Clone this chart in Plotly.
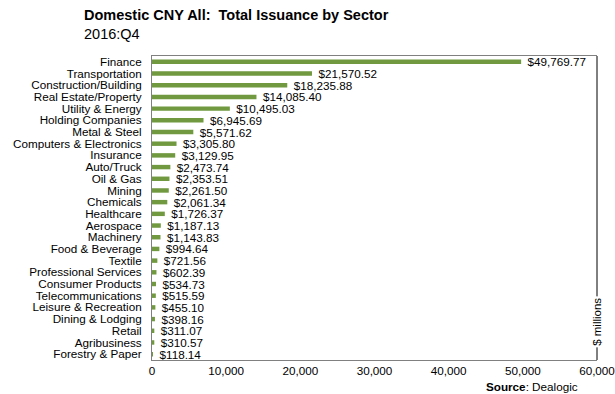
import plotly.graph_objects as go

sectors = ["Finance", "Transportation", "Construction/Building", "Real Estate/Property",
           "Utility & Energy", "Holding Companies", "Metal & Steel", "Computers & Electronics",
           "Insurance", "Auto/Truck", "Oil & Gas", "Mining", "Chemicals", "Healthcare",
           "Aerospace", "Machinery", "Food & Beverage", "Textile", "Professional Services",
           "Consumer Products", "Telecommunications", "Leisure & Recreation",
           "Dining & Lodging", "Retail", "Agribusiness", "Forestry & Paper"]
issuance = [49769.77, 21570.52, 18235.88, 14085.40, 10495.03, 6945.69, 5571.62, 3305.80,
            3129.95, 2473.74, 2353.51, 2261.50, 2061.34, 1726.37, 1187.13, 1143.83, 994.64,
            721.56, 602.39, 534.73, 515.59, 455.10, 398.16, 311.07, 310.57, 118.14]
x_ticks = [0, 10000, 20000, 30000, 40000, 50000, 60000]

font = "Liberation Sans, Arial, sans-serif"

fig = go.Figure(go.Bar(
    x=issuance, y=sectors, orientation="h",
    marker=dict(color="#71993f", line=dict(width=0)),
    text=["  ${:,.2f}".format(v) for v in issuance],
    textposition="outside", cliponaxis=False, constraintext="none",
    textfont=dict(family=font, size=11.7, color="black"),
    width=0.38,
))

fig.update_layout(
    width=615, height=394,
    margin=dict(l=152, r=18, t=56, b=34, autoexpand=False),
    plot_bgcolor="white", paper_bgcolor="white",
    showlegend=False,
    font=dict(family=font, size=11.7, color="black"),
)
fig.update_xaxes(range=[0, 60000], tickvals=x_ticks,
                 ticktext=["{:,}".format(t) for t in x_ticks],
                 showgrid=False, zeroline=False, showline=True, linecolor="#808080",
                 linewidth=1, mirror=True, ticks="", tickfont=dict(size=11.7),
                 ticklabeloverflow="allow")
fig.update_yaxes(autorange="reversed", showgrid=False, showline=True, linecolor="#808080",
                 linewidth=1, ticks="", tickmode="array", tickvals=sectors,
                 ticklabelstandoff=7, tickfont=dict(size=11.7))

# right border black
fig.add_shape(type="line", xref="paper", yref="paper", x0=1, x1=1, y0=0, y1=1,
              line=dict(color="black", width=1))

fig.add_annotation(text="$ millions", xref="paper", yref="paper", x=1, y=0.04,
                   xanchor="center", yanchor="bottom", textangle=-90, showarrow=False,
                   bgcolor="white", font=dict(size=11.5))
fig.add_annotation(text="<b>Domestic CNY All:  Total Issuance by Sector</b><br>2016:Q4",
                   xref="paper", yref="paper", x=-70 / 445, y=1.0,
                   xanchor="left", yanchor="bottom", showarrow=False, align="left",
                   yshift=12, font=dict(size=14.5))
fig.add_annotation(text="<b>Source</b>: Dealogic", xref="paper", yref="paper", x=0.962, y=0,
                   xanchor="right", yanchor="middle", showarrow=False, yshift=-26,
                   font=dict(size=11.7))

fig.write_html("out.html", config={"displayModeBar": False},
               post_script="document.body.style.margin='0';")
